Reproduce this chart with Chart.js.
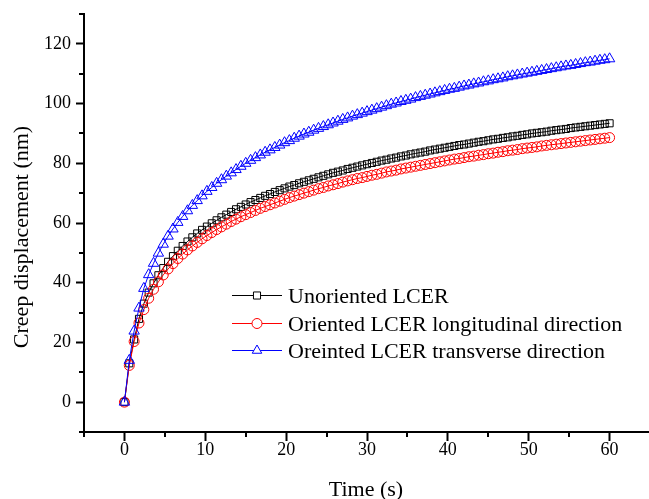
<!DOCTYPE html>
<html>
<head>
<meta charset="utf-8">
<script src="https://cdn.jsdelivr.net/npm/chart.js@4.4.1/dist/chart.umd.min.js"></script>
<style>
  html, body { margin: 0; padding: 0; background: #fff; }
  #wrap { width: 649px; height: 499px; }
</style>
</head>
<body>
<div id="wrap"><canvas id="c" width="649" height="499"></canvas></div>
<script>
const timeValues = [0,0.6,1.2,1.8,2.4,3,3.6,4.2,4.8,5.4,6,6.6,7.2,7.8,8.4,9,9.6,10.2,10.8,11.4,12,12.6,13.2,13.8,14.4,15,15.6,16.2,16.8,17.4,18,18.6,19.2,19.8,20.4,21,21.6,22.2,22.8,23.4,24,24.6,25.2,25.8,26.4,27,27.6,28.2,28.8,29.4,30,30.6,31.2,31.8,32.4,33,33.6,34.2,34.8,35.4,36,36.6,37.2,37.8,38.4,39,39.6,40.2,40.8,41.4,42,42.6,43.2,43.8,44.4,45,45.6,46.2,46.8,47.4,48,48.6,49.2,49.8,50.4,51,51.6,52.2,52.8,53.4,54,54.6,55.2,55.8,56.4,57,57.6,58.2,58.8,59.4,60];

const unorientedLCER = [
  0, 13.0, 21.0, 27.9, 33.0, 36.7, 39.8, 42.5, 44.9, 47.0,
  48.9, 50.7, 52.3, 53.8, 55.2, 56.5, 57.7, 58.8, 59.9, 60.9,
  61.9, 62.8, 63.7, 64.6, 65.4, 66.2, 67.0, 67.7, 68.4, 69.1,
  69.7, 70.4, 71.0, 71.6, 72.2, 72.7, 73.3, 73.8, 74.3, 74.8,
  75.3, 75.8, 76.3, 76.8, 77.2, 77.6, 78.1, 78.5, 78.9, 79.3,
  79.7, 80.1, 80.5, 80.9, 81.2, 81.6, 81.9, 82.3, 82.6, 83.0,
  83.3, 83.6, 83.9, 84.3, 84.6, 84.9, 85.2, 85.5, 85.8, 86.1,
  86.3, 86.6, 86.9, 87.2, 87.4, 87.7, 88.0, 88.2, 88.5, 88.7,
  89.0, 89.2, 89.5, 89.7, 90.0, 90.2, 90.4, 90.6, 90.9, 91.1,
  91.3, 91.5, 91.8, 92.0, 92.2, 92.4, 92.6, 92.8, 93.0, 93.2,
  93.4];

const orientedLongitudinal = [
  0, 12.3, 20.3, 26.5, 31.0, 34.8, 37.8, 40.3, 42.6, 44.6,
  46.4, 48.1, 49.6, 51.0, 52.3, 53.5, 54.7, 55.8, 56.8, 57.8,
  58.7, 59.6, 60.5, 61.3, 62.1, 62.8, 63.5, 64.2, 64.9, 65.5,
  66.1, 66.7, 67.3, 67.9, 68.5, 69.0, 69.5, 70.0, 70.5, 71.0,
  71.5, 71.9, 72.4, 72.8, 73.2, 73.7, 74.1, 74.5, 74.9, 75.2,
  75.6, 76.0, 76.3, 76.7, 77.1, 77.4, 77.7, 78.1, 78.4, 78.7,
  79.0, 79.3, 79.6, 79.9, 80.2, 80.5, 80.8, 81.1, 81.4, 81.6,
  81.9, 82.2, 82.4, 82.7, 82.9, 83.2, 83.4, 83.7, 83.9, 84.2,
  84.4, 84.6, 84.9, 85.1, 85.3, 85.5, 85.8, 86.0, 86.2, 86.4,
  86.6, 86.8, 87.0, 87.2, 87.4, 87.6, 87.8, 88.0, 88.2, 88.4,
  88.6];

const orientedTransverse = [
  0, 14.0, 23.8, 31.5, 38.1, 42.7, 46.5, 49.9, 52.9, 55.6,
  58.0, 60.2, 62.2, 64.1, 65.9, 67.5, 69.1, 70.6, 71.9, 73.3,
  74.5, 75.7, 76.8, 77.9, 79.0, 80.0, 81.0, 81.9, 82.8, 83.7,
  84.5, 85.3, 86.1, 86.9, 87.6, 88.4, 89.1, 89.8, 90.4, 91.1,
  91.7, 92.3, 92.9, 93.5, 94.1, 94.7, 95.2, 95.8, 96.3, 96.8,
  97.3, 97.8, 98.3, 98.8, 99.3, 99.8, 100.2, 100.7, 101.1, 101.5,
  102.0, 102.4, 102.8, 103.2, 103.6, 104.0, 104.4, 104.8, 105.1, 105.5,
  105.9, 106.2, 106.6, 106.9, 107.3, 107.6, 108.0, 108.3, 108.6, 109.0,
  109.3, 109.6, 109.9, 110.2, 110.5, 110.8, 111.1, 111.4, 111.7, 112.0,
  112.3, 112.6, 112.8, 113.1, 113.4, 113.7, 113.9, 114.2, 114.5, 114.7,
  115.0];

const seriesNames = ['Unoriented LCER', 'Oriented LCER longitudinal direction', 'Oreinted LCER transverse direction'];
const xTickValues = [0, 10, 20, 30, 40, 50, 60];
const yTickValues = [0, 20, 40, 60, 80, 100, 120];
const xMinorTickValues = [-5, 5, 15, 25, 35, 45, 55];
const yMinorTickValues = [-10, 10, 30, 50, 70, 90, 110, 130];
const xTitle = 'Time (s)';
const yTitle = 'Creep displacement (nm)';

const SERIF = '"Liberation Serif", "Times New Roman", Times, serif';
Chart.defaults.font.family = SERIF;
Chart.defaults.color = '#000';

function pts(vals) { return timeValues.map((t, i) => ({ x: t, y: vals[i] })); }

const styles = [
  { color: '#000000', pointStyle: 'rect', radius: 5, order: 3 },
  { color: '#ff0000', pointStyle: 'circle', radius: 5, order: 2 },
  { color: '#0000ff', pointStyle: 'triangle', radius: 6, order: 1 }
];
const seriesValues = [unorientedLCER, orientedLongitudinal, orientedTransverse];

const datasets = seriesValues.map((vals, i) => ({
  label: seriesNames[i],
  data: pts(vals),
  borderColor: styles[i].color,
  backgroundColor: 'rgba(255,255,255,0)',
  borderWidth: 1,
  pointStyle: styles[i].pointStyle,
  pointRadius: styles[i].radius,
  pointBorderWidth: 1,
  pointBorderColor: styles[i].color,
  pointBackgroundColor: 'rgba(255,255,255,0)',
  tension: 0,
  clip: false,
  order: styles[i].order
}));

const extrasPlugin = {
  id: 'extras',
  afterDraw(chart) {
    const ctx = chart.ctx;
    const xs = chart.scales.x, ys = chart.scales.y;
    const area = chart.chartArea;
    ctx.save();
    // minor ticks
    ctx.strokeStyle = '#000';
    ctx.lineWidth = 2;
    ctx.beginPath();
    xMinorTickValues.forEach(v => {
      const px = Math.round(xs.getPixelForValue(v));
      ctx.moveTo(px, area.bottom);
      ctx.lineTo(px, area.bottom + 5);
    });
    yMinorTickValues.forEach(v => {
      const py = Math.round(ys.getPixelForValue(v));
      ctx.moveTo(area.left - 5, py);
      ctx.lineTo(area.left, py);
    });
    ctx.stroke();

    // y axis title
    ctx.fillStyle = '#000';
    ctx.font = '22px ' + SERIF;
    ctx.textAlign = 'center';
    ctx.textBaseline = 'middle';
    ctx.save();
    ctx.translate(22, 237);
    ctx.rotate(-Math.PI / 2);
    ctx.fillText(yTitle, 0, 0);
    ctx.restore();

    // legend inside plot
    const rows = [295, 323, 350];
    const lx0 = 232, lx1 = 282, mx = 257, tx = 288;
    chart.data.datasets.forEach((ds, i) => {
      const y = rows[i];
      ctx.strokeStyle = ds.borderColor;
      ctx.lineWidth = 1;
      ctx.beginPath();
      ctx.moveTo(lx0, y + 0.5);
      ctx.lineTo(lx1, y + 0.5);
      ctx.stroke();
      ctx.fillStyle = '#fff';
      ctx.strokeStyle = ds.borderColor;
      Chart.helpers.drawPoint(ctx, {
        pointStyle: ds.pointStyle,
        radius: ds.pointStyle === 'triangle' ? 5.5 : 5,
        borderWidth: 1,
        rotation: 0
      }, mx, y + 0.5);
      ctx.fillStyle = '#000';
      ctx.font = '22px ' + SERIF;
      ctx.textAlign = 'left';
      ctx.textBaseline = 'alphabetic';
      ctx.fillText(ds.label, tx, y + 8);
    });
    ctx.restore();
  }
};

new Chart(document.getElementById('c'), {
  type: 'line',
  data: { datasets },
  options: {
    responsive: false,
    animation: false,
    devicePixelRatio: 1,
    layout: { autoPadding: false, padding: { top: 14, right: 1, left: 0, bottom: 0 } },
    plugins: { legend: { display: false }, tooltip: { enabled: false } },
    scales: {
      x: {
        type: 'linear',
        min: -5, max: 64.75,
        afterBuildTicks: s => { s.ticks = xTickValues.map(v => ({ value: v })); },
        afterFit: s => { s.height = 67; s.paddingLeft = 0; s.paddingRight = 0; },
        grid: { drawOnChartArea: false, drawTicks: true, tickLength: 9, tickWidth: 2, tickColor: '#000' },
        border: { display: true, color: '#000', width: 2 },
        ticks: { color: '#000', font: { size: 18 }, padding: -2, maxRotation: 0, callback: v => String(v) },
        title: { display: true, text: xTitle, color: '#000', font: { size: 22, lineHeight: 0.8 }, padding: 0 }
      },
      y: {
        type: 'linear',
        min: -10, max: 130,
        afterBuildTicks: s => { s.ticks = yTickValues.map(v => ({ value: v })); },
        afterFit: s => { s.width = 84; s.paddingTop = 0; s.paddingBottom = 0; },
        grid: { drawOnChartArea: false, drawTicks: true, tickLength: 8, tickWidth: 2, tickColor: '#000' },
        border: { display: true, color: '#000', width: 2 },
        ticks: { color: '#000', font: { size: 18 }, padding: 5, callback: v => String(v) }
      }
    }
  },
  plugins: [extrasPlugin]
});
</script>
</body>
</html>
